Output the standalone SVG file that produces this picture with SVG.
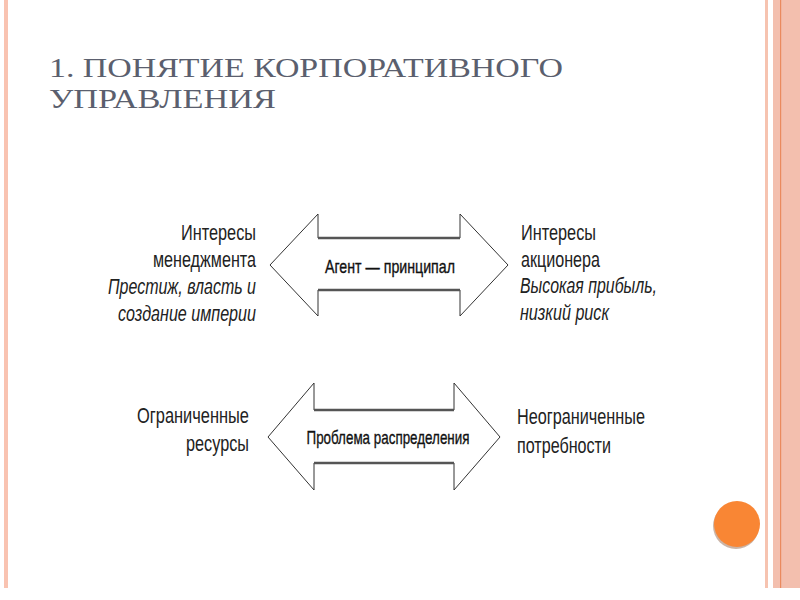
<svg xmlns="http://www.w3.org/2000/svg" width="800" height="600" viewBox="0 0 800 600">
<style>
.title{font-family:"Liberation Serif","DejaVu Serif",serif;font-size:28px;fill:#5b5f6e}
.lbl{font-family:"Liberation Sans Narrow","Liberation Sans",Arial,sans-serif;font-size:22px;fill:#222}
.it{font-style:italic}
.atx{font-family:"Liberation Sans Narrow","Liberation Sans",Arial,sans-serif;font-size:19px;fill:#111;stroke:#111;stroke-width:0.35}
.arrow{fill:#fff;stroke:#333;stroke-width:1}
.shaft{stroke:#555;stroke-width:2.5}
</style>
<rect width="800" height="600" fill="#fff"/>
<g id="decor">
<rect x="4" y="0" width="4" height="588" fill="#f9c3b1"/>
<rect x="765" y="0" width="3" height="588" fill="#f6c3b0"/>
<rect x="773" y="0" width="27" height="588" fill="#f3bfae"/>
<rect x="780" y="0" width="1.2" height="588" fill="#ea8a5e"/>
<circle cx="736" cy="526" r="23" fill="#a8826a" opacity="0.6"/>
<circle cx="737" cy="524" r="23" fill="#f98634"/>
</g>
<g id="title">
<text class="title" x="49" y="77" textLength="514" lengthAdjust="spacingAndGlyphs">1. ПОНЯТИЕ КОРПОРАТИВНОГО</text>
<text class="title" x="49" y="108" textLength="227" lengthAdjust="spacingAndGlyphs">УПРАВЛЕНИЯ</text>
</g>
<g id="connectors">
<g id="arrow-agent">
<polygon class="arrow" points="270,265 318,214 318,238 460,238 460,214 508,265 460,316 460,290 318,290 318,316"/>
<line class="shaft" x1="318" y1="238" x2="460" y2="238"/>
<line class="shaft" x1="318" y1="290" x2="460" y2="290"/>
<text class="atx" x="390" y="273" text-anchor="middle" textLength="130" lengthAdjust="spacingAndGlyphs">Агент — принципал</text>
</g>
<g id="arrow-distribution">
<polygon class="arrow" points="268,437 314,383 314,410 454,410 454,383 500,437 454,490 454,463 314,463 314,490"/>
<line class="shaft" x1="314" y1="410" x2="454" y2="410"/>
<line class="shaft" x1="314" y1="463" x2="454" y2="463"/>
<text class="atx" x="388" y="444" text-anchor="middle" textLength="163" lengthAdjust="spacingAndGlyphs">Проблема распределения</text>
</g>
</g>
<g id="management">
<text class="lbl" x="256" y="240" text-anchor="end" textLength="75" lengthAdjust="spacingAndGlyphs">Интересы</text>
<text class="lbl" x="256" y="267" text-anchor="end" textLength="103" lengthAdjust="spacingAndGlyphs">менеджмента</text>
<text class="lbl it" x="256" y="294" text-anchor="end" textLength="148" lengthAdjust="spacingAndGlyphs">Престиж, власть и</text>
<text class="lbl it" x="256" y="321" text-anchor="end" textLength="138" lengthAdjust="spacingAndGlyphs">создание империи</text>
</g>
<g id="shareholders">
<text class="lbl" x="521" y="240" textLength="75" lengthAdjust="spacingAndGlyphs">Интересы</text>
<text class="lbl" x="521" y="267" textLength="79" lengthAdjust="spacingAndGlyphs">акционера</text>
<text class="lbl it" x="520" y="293" textLength="137" lengthAdjust="spacingAndGlyphs">Высокая прибыль,</text>
<text class="lbl it" x="520" y="320" textLength="89" lengthAdjust="spacingAndGlyphs">низкий риск</text>
</g>
<g id="resources">
<text class="lbl" x="249" y="423" text-anchor="end" textLength="112" lengthAdjust="spacingAndGlyphs">Ограниченные</text>
<text class="lbl" x="249" y="451" text-anchor="end" textLength="63" lengthAdjust="spacingAndGlyphs">ресурсы</text>
</g>
<g id="needs">
<text class="lbl" x="517" y="424" textLength="128" lengthAdjust="spacingAndGlyphs">Неограниченные</text>
<text class="lbl" x="517" y="453" textLength="94" lengthAdjust="spacingAndGlyphs">потребности</text>
</g>
</svg>
